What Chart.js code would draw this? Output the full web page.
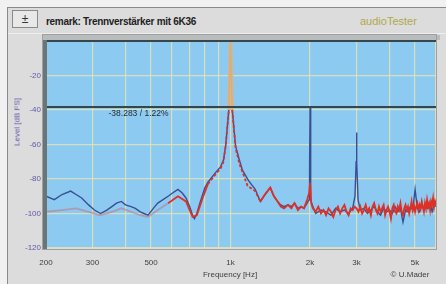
<!DOCTYPE html>
<html>
<head>
<meta charset="utf-8">
<script src="https://cdn.jsdelivr.net/npm/chart.js@4.4.1/dist/chart.umd.min.js"></script>
<style>
  html, body { margin: 0; padding: 0; }
  body { width: 446px; height: 284px; overflow: hidden; background: #f1f1f1; position: relative;
         font-family: "Liberation Sans", Arial, sans-serif; }
  #frame { position: absolute; left: 7px; top: 7px; width: 439px; height: 277px; background: #dcdcdc;
           border-left: 1px solid #8a8a8a; border-top: 1px solid #8a8a8a; }
  #sep { position: absolute; left: 8px; top: 33px; width: 438px; height: 1px; background: #eeeeee; }
  #icon { position: absolute; left: 12px; top: 10px; width: 24px; height: 16px; border: 1px solid #8a8a8a;
          background: #e8e8e8; font-size: 12px; line-height: 16px; text-align: center; color: #333; }
  #title { position: absolute; left: 46px; top: 16px; font-size: 10px; font-weight: bold; color: #1e1e1e;
           letter-spacing: -0.3px; white-space: nowrap; }
  #brand { position: absolute; left: 360px; top: 15px; font-size: 11px; color: #b0a84a; white-space: nowrap; }
  #ytitle { position: absolute; left: 17px; top: 122px; font-size: 8px; color: #6058a8; white-space: nowrap;
            transform: translate(-50%, -50%) rotate(-90deg); }
  #xtitle { position: absolute; left: 230px; top: 274px; font-size: 8px; color: #404040; white-space: nowrap;
            transform: translate(-50%, -50%); }
  #credit { position: absolute; left: 410px; top: 274px; font-size: 8px; color: #404040; white-space: nowrap;
            transform: translate(-50%, -50%); }
  canvas { position: absolute; left: 0; top: 0; }
</style>
</head>
<body>
<div id="frame"></div>
<div id="sep"></div>
<div id="icon">±</div>
<div id="title">remark: Trennverstärker mit 6K36</div>
<div id="brand">audioTester</div>
<canvas id="myChart" width="446" height="284"></canvas>
<div id="ytitle">Level [dB FS]</div>
<div id="xtitle">Frequency [Hz]</div>
<div id="credit">© U.Mader</div>
<script>
// axis ticks
const gridFreqs = [200, 300, 400, 500, 600, 700, 800, 900, 1000, 2000, 3000, 4000, 5000, 6000];
const freqLabels = { 200: '200', 300: '300', 500: '500', 1000: '1k', 2000: '2k', 3000: '3k', 5000: '5k' };

// marker lines (dB)
const markerLevels = [0, -38.283];
const markerText = '-38.283 / 1.22%';

// blue trace
const blueFreq = [200, 215, 230, 248, 260, 273, 290, 305, 322, 340, 355, 370, 386, 400, 420, 436, 455, 470, 487,
  510, 530, 555, 580, 605, 632, 655, 678, 700, 718, 730, 745, 765, 784, 800, 820, 850, 880, 916, 940, 958,
  985, 1000, 1015, 1045, 1080, 1110, 1170, 1240, 1297, 1350, 1414, 1460, 1507, 1550, 1594, 1650, 1700, 1747,
  1800, 1850, 1897, 1950, 1985, 1992, 2000, 2008, 2015, 2050, 2100, 2200, 2300, 2400, 2500, 2600, 2700, 2800,
  2900, 2960, 2990, 3000, 3010, 3040, 3100, 3200, 3300, 3400, 3500, 3600, 3700, 3800, 3900, 4000, 4100, 4200,
  4300, 4400, 4500, 4600, 4700, 4800, 4900, 5000, 5100, 5200, 5300, 5400, 5500, 5600, 5700, 5800, 5900, 6000];
const blueLevel = [-90, -92, -89, -87, -89, -91, -95, -98, -100, -98, -96, -94, -93, -95, -96, -97, -99, -100, -101,
  -97, -94, -92, -90, -88, -86, -88, -91, -96, -101, -103, -100, -94, -89, -85, -82, -79, -76, -73, -69, -61,
  -40, -0.3, -40, -61, -69, -75, -81, -86, -93, -89, -85, -90, -93, -95, -96, -95, -96, -94,
  -97, -96, -97, -94, -92, -75, -38.3, -75, -92, -96, -100, -98, -99, -101, -97, -99, -98, -100,
  -97, -90, -70, -53, -70, -92, -98, -97, -100, -98, -96, -99, -101, -97, -99, -98, -100, -96,
  -99, -97, -105, -98, -99, -96, -98, -86, -97, -99, -95, -98, -96, -97, -94, -99, -95, -96];

// red trace
const redFreq = [200, 230, 260, 290, 320, 355, 386, 420, 455, 487, 530, 580, 632, 678, 718, 745, 784, 820, 850,
  880, 916, 940, 958, 985, 1000, 1015, 1045, 1080, 1110, 1160, 1240, 1297, 1350, 1414, 1460, 1507, 1550, 1594,
  1650, 1700, 1747, 1800, 1850, 1897, 1950, 1985, 2000, 2020,
  2050, 2100, 2150, 2200, 2250, 2300, 2350, 2400, 2450, 2500, 2550, 2600, 2650, 2700, 2750, 2800, 2850, 2900,
  2950, 3000, 3050, 3100, 3150, 3200, 3250, 3300, 3350, 3400, 3450, 3500, 3550, 3600, 3650, 3700, 3750, 3800,
  3850, 3900, 3950, 4000, 4050, 4100, 4150, 4200, 4250, 4300, 4350, 4400, 4450, 4500, 4550, 4600, 4650, 4700,
  4750, 4800, 4850, 4900, 4950, 5000, 5050, 5100, 5150, 5200, 5250, 5300, 5350, 5400, 5450, 5500, 5550, 5600,
  5650, 5700, 5750, 5800, 5850, 5900, 5950, 6000];
const redLevel = [-99, -98, -97, -99, -101, -99, -97, -99, -101, -102, -98, -94, -90, -93, -102, -101, -91, -83, -80,
  -77, -74, -70, -61, -40, -0.3, -40, -62, -71, -76, -84, -87, -93, -89, -85, -90, -93, -96, -97,
  -95, -97, -94, -98, -96, -97, -92, -88, -82, -94,
  -97, -99, -96, -100, -98, -101, -97, -99, -102, -98, -96, -100, -97, -95, -99, -101, -97, -98,
  -96, -97, -99, -96, -100, -98, -95, -99, -97, -101, -96, -94, -98, -100, -96, -99, -97, -95,
  -101, -98, -96, -99, -103, -97, -95, -99, -100, -96, -98, -94, -99, -101, -97, -95, -98, -96,
  -100, -97, -93, -98, -95, -99, -96, -94, -98, -95, -97, -93, -96, -99, -94, -97, -92, -96,
  -94, -98, -93, -95, -91, -96, -93, -95];

const toPoints = (xs, ys) => xs.map((x, i) => ({ x: x, y: ys[i] }));

const inPeak = ctx => ctx.p0.parsed.x >= 985 && ctx.p1.parsed.x <= 1015;
const inSkirt = ctx => ctx.p0.parsed.x >= 800 && ctx.p1.parsed.x <= 1300 && !inPeak(ctx);

const redColor = ctx => {
  if (ctx.p1.parsed.x < 620) return 'rgba(185,125,140,0.6)';
  if (inPeak(ctx)) return 'rgba(222,180,128,0.95)';
  return 'rgb(222,48,36)';
};

const bgPlugin = {
  id: 'plotBg',
  beforeDraw(chart) {
    const a = chart.chartArea, c = chart.ctx;
    c.save();
    c.fillStyle = 'rgb(140,202,242)';
    c.fillRect(a.left, a.top, a.right - a.left, a.bottom - a.top);
    c.fillStyle = '#b8bcbc';
    c.fillRect(a.left - 4, a.top - 6, a.right - a.left + 8, 5);
    c.restore();
  },
  afterDatasetsDraw(chart) {
    const a = chart.chartArea, c = chart.ctx;
    const xs = chart.scales.x, ys = chart.scales.y;
    c.save();
    c.fillStyle = '#2a2a2a';
    c.font = '8.5px "Liberation Sans", Arial, sans-serif';
    c.textBaseline = 'middle';
    c.fillText(markerText, xs.getPixelForValue(345), ys.getPixelForValue(markerLevels[1]) + 7);
    c.fillStyle = '#6a7676';
    c.fillRect(a.left - 3, a.top - 1, 4, a.bottom - a.top + 2);
    c.strokeStyle = '#a0a0a0';
    c.lineWidth = 1;
    c.strokeRect(a.left - 3.5, a.top - 6.5, a.right - a.left + 4, a.bottom - a.top + 8);
    c.restore();
  }
};

const config = {
  type: 'line',
  data: {
    datasets: [
      {
        label: 'marker',
        data: markerLevels.map(v => [{ x: 200, y: v }, { x: 6000, y: v }]).flatMap((pair, i) => i ? [{ x: NaN, y: NaN }, ...pair] : pair),
        borderColor: '#34484c',
        borderWidth: 2,
        pointRadius: 0,
        spanGaps: false,
        clip: false
      },
      {
        label: 'red',
        data: toPoints(redFreq, redLevel),
        borderColor: 'rgb(222,48,36)',
        borderWidth: 1.8,
        pointRadius: 0,
        tension: 0,
        segment: {
          borderColor: redColor,
          borderWidth: ctx => inPeak(ctx) ? 3.5 : 1.8,
          borderDash: ctx => inSkirt(ctx) ? [3, 2] : undefined
        }
      },
      {
        label: 'blue',
        data: toPoints(blueFreq, blueLevel),
        borderColor: 'rgb(58,78,148)',
        borderWidth: 1.4,
        pointRadius: 0,
        tension: 0
      }
    ]
  },
  options: {
    responsive: false,
    animation: false,
    events: [],
    layout: { padding: { top: 41, right: 8, left: 0, bottom: 0 } },
    plugins: { legend: { display: false }, tooltip: { enabled: false } },
    scales: {
      x: {
        type: 'logarithmic',
        min: 200,
        max: 6000,
        afterBuildTicks: scale => { scale.ticks = gridFreqs.map(v => ({ value: v })); },
        afterFit: scale => { scale.height = 36; },
        ticks: {
          autoSkip: false,
          maxRotation: 0,
          padding: 10,
          color: '#404040',
          font: { size: 8, family: '"Liberation Sans", Arial, sans-serif' },
          callback: v => freqLabels[v] || ''
        },
        grid: { color: 'rgba(228,228,178,0.85)', lineWidth: 1.2, drawTicks: false },
        border: { display: false }
      },
      y: {
        min: -120,
        max: 0,
        afterFit: scale => { scale.width = 46; },
        ticks: {
          stepSize: 20,
          padding: 5,
          color: '#6058a8',
          font: { size: 8, family: '"Liberation Sans", Arial, sans-serif' },
          callback: v => v === 0 ? '' : v
        },
        grid: { color: 'rgba(228,228,178,0.85)', lineWidth: 1.2, drawTicks: false },
        border: { display: false }
      }
    }
  },
  plugins: [bgPlugin]
};

Chart.defaults.color = '#404040';

const ctx = document.getElementById('myChart');
const chart = new Chart(ctx, config);
</script>
</body>
</html>
